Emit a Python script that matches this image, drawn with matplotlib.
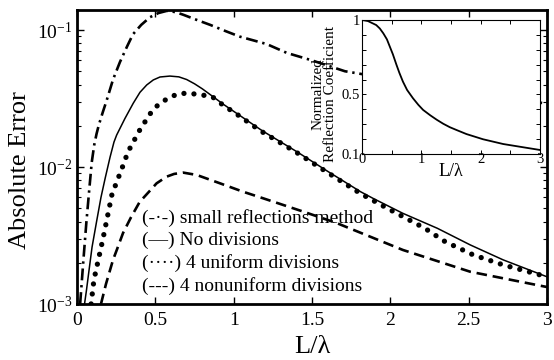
import matplotlib
matplotlib.use("Agg")
import matplotlib.pyplot as plt
import numpy as np
from matplotlib.ticker import FixedLocator, LogLocator, NullFormatter

plt.rcParams['font.family'] = ['Liberation Serif', 'DejaVu Serif']
plt.rcParams['mathtext.fontset'] = 'custom'
plt.rcParams['mathtext.rm'] = 'Liberation Serif'
plt.rcParams['mathtext.it'] = 'Liberation Serif:italic'
plt.rcParams['mathtext.bf'] = 'Liberation Serif:bold'

# ---- data ----
L_sr = [0.02, 0.04, 0.06, 0.08, 0.094, 0.11, 0.125, 0.14, 0.165, 0.19, 0.23, 0.274, 0.32, 0.357, 0.41,
        0.466, 0.52, 0.574, 0.63, 0.68, 0.76, 0.85, 0.95, 1.04, 1.21, 1.34, 1.5, 1.71, 2.0, 2.5, 3.0]
E_sr = [0.001, 0.00203, 0.00397, 0.0072, 0.0108, 0.0145, 0.0175, 0.0204, 0.0252, 0.0308, 0.0435, 0.0583,
        0.076, 0.093, 0.109, 0.124, 0.133, 0.138, 0.135, 0.129, 0.119, 0.109, 0.098, 0.0894, 0.079, 0.068,
        0.060, 0.050, 0.044, 0.035, 0.029]

L_nd = [0.048, 0.06, 0.075, 0.096, 0.125, 0.153, 0.18, 0.211, 0.236, 0.253, 0.306, 0.359, 0.402, 0.445,
        0.487, 0.530, 0.593, 0.65, 0.70, 0.75, 0.80, 0.87, 0.934, 1.02, 1.17, 1.21, 1.4, 1.6, 1.81, 1.89,
        2.08, 2.30, 2.51, 2.72, 3.0]
E_nd = [0.001, 0.00125, 0.0017, 0.0026, 0.0040, 0.0060, 0.0083, 0.0118, 0.0152, 0.0171, 0.0226, 0.0292,
        0.0351, 0.0397, 0.0432, 0.0454, 0.0461, 0.0455, 0.0435, 0.0405, 0.0372, 0.0325, 0.0287, 0.0246,
        0.0188, 0.0176, 0.0130, 0.0093, 0.0066, 0.0059, 0.00459, 0.00357, 0.0027, 0.0021, 0.00158]

L_un = [0.09, 0.108, 0.166, 0.223, 0.30, 0.325, 0.357, 0.39, 0.466, 0.517, 0.574, 0.638, 0.708, 0.772,
        0.86, 0.934, 1.02, 1.17, 1.4, 1.6, 1.81, 1.98, 2.22, 2.35, 2.53, 2.72, 3.0]
E_un = [0.001, 0.0015, 0.0030, 0.0063, 0.0107, 0.0129, 0.015, 0.0178, 0.0244, 0.0284, 0.0314, 0.034,
        0.0347, 0.0338, 0.0328, 0.0282, 0.0243, 0.0184, 0.0128, 0.0091, 0.0064, 0.0050, 0.00357, 0.00285,
        0.00228, 0.00193, 0.00158]

L_nu = [0.153, 0.185, 0.23, 0.255, 0.294, 0.345, 0.40, 0.47, 0.508, 0.572, 0.62, 0.678, 0.764, 0.913,
        1.06, 1.19, 1.45, 1.657, 2.08, 2.51, 3.0]
E_nu = [0.001, 0.0014, 0.0021, 0.0025, 0.0033, 0.0043, 0.00556, 0.0068, 0.0076, 0.0085, 0.0089, 0.0091,
        0.00875, 0.0076, 0.0066, 0.0059, 0.0047, 0.0039, 0.00248, 0.00172, 0.00133]

L_in = [0.0, 0.1, 0.24, 0.30, 0.36, 0.42, 0.47, 0.52, 0.58, 0.63, 0.69, 0.76, 0.86, 0.95, 1.03, 1.15,
        1.26, 1.37, 1.48, 1.6, 1.76, 2.04, 2.38, 2.72, 3.0]
R_in = [1.0, 0.993, 0.966, 0.943, 0.91, 0.87, 0.82, 0.77, 0.70, 0.645, 0.586, 0.53, 0.474, 0.43, 0.396,
        0.36, 0.33, 0.303, 0.28, 0.26, 0.234, 0.199, 0.167, 0.145, 0.127]

legend_labels = ["(-\u00b7-) small reflections method", "(\u2014) No divisions",
                 "(\u00b7\u00b7\u00b7\u00b7) 4 uniform divisions", "(---) 4 nonuniform divisions"]
x_ticks = [0, 0.5, 1, 1.5, 2, 2.5, 3]
x_ticklabels = ["0", "0.5", "1", "1.5", "2", "2.5", "3"]
in_yticks = [0.1, 0.2, 0.3, 0.4, 0.5, 0.6, 0.7, 0.8, 0.9, 1.0]
in_yticklabels = ["0.1", "", "", "", "0.5", "", "", "", "", "1"]
in_xticks = [0, 0.5, 1, 1.5, 2, 2.5, 3]
in_xticklabels = ["0", "", "1", "", "2", "", "3"]

fig = plt.figure(figsize=(5.54, 3.6), dpi=100)
ax = fig.add_axes([77/554, 1-304/360, (547-77)/554, (304-10)/360])

ax.plot(L_sr, E_sr, color='k', lw=1.9, linestyle=(0, (4.5, 1.8, 0.9, 1.8)))
ax.plot(L_nd, E_nd, color='k', lw=1.1, linestyle='-')
ax.plot(L_un, E_un, color='k', lw=3.8, linestyle=(0, (0.01, 1.9)), dash_capstyle='round')
ax.plot(L_nu, E_nu, color='k', lw=1.9, linestyle=(0, (4.0, 2.2)))

ax.set_yscale('log')
ax.set_xlim(0, 3)
ax.set_ylim(1e-3, 10**(-1+20/137))
ax.set_xticks(x_ticks)
ax.set_xticklabels(x_ticklabels)
ax.yaxis.set_major_locator(FixedLocator([1e-3, 1e-2, 1e-1]))
ax.yaxis.set_minor_locator(LogLocator(base=10, subs=np.arange(2, 10), numticks=20))
ax.yaxis.set_minor_formatter(NullFormatter())
ax.tick_params(which='both', direction='in', top=True, right=True, labelsize=14)
ax.tick_params(which='major', length=5, width=1)
ax.tick_params(which='minor', length=3, width=0.8)
ax.tick_params(axis='x', pad=6)
for s in ax.spines.values():
    s.set_linewidth(2.0)
ax.set_xlabel("L/\u03bb", fontsize=19, labelpad=5)
ax.set_ylabel("Absolute Error", fontsize=19)
ax.yaxis.set_label_coords(-0.098, 0.455)

fig.text(142/554, 1-209/360, "\n".join(legend_labels), fontsize=14,
         va='top', ha='left', linespacing=1.36)

ins = fig.add_axes([362/554, 1-154/360, (540-362)/554, (154-20)/360])
ins.set_zorder(5)
ins.set_facecolor('white')
ins.plot(L_in, R_in, color='k', lw=1.3)
ins.set_xlim(0, 3)
ins.set_ylim(0.1, 1.0)
ins.set_xticks(in_xticks)
ins.set_xticklabels(in_xticklabels)
ins.set_yticks(in_yticks)
ins.set_yticklabels(in_yticklabels)
ins.tick_params(direction='in', top=True, right=True, labelsize=10.5, length=3, width=0.7)
ins.tick_params(axis='x', pad=-1)
ins.tick_params(axis='y', pad=1.5)
for s in ins.spines.values():
    s.set_linewidth(0.8)
ins.set_xlabel("L/\u03bb", fontsize=13, labelpad=-2)
ins.set_ylabel("Normalized\nReflection Coefficient", fontsize=11, labelpad=3, linespacing=1.0)
ins.yaxis.set_label_coords(-0.14, 0.45)

fig.savefig("out.png", dpi=100)
